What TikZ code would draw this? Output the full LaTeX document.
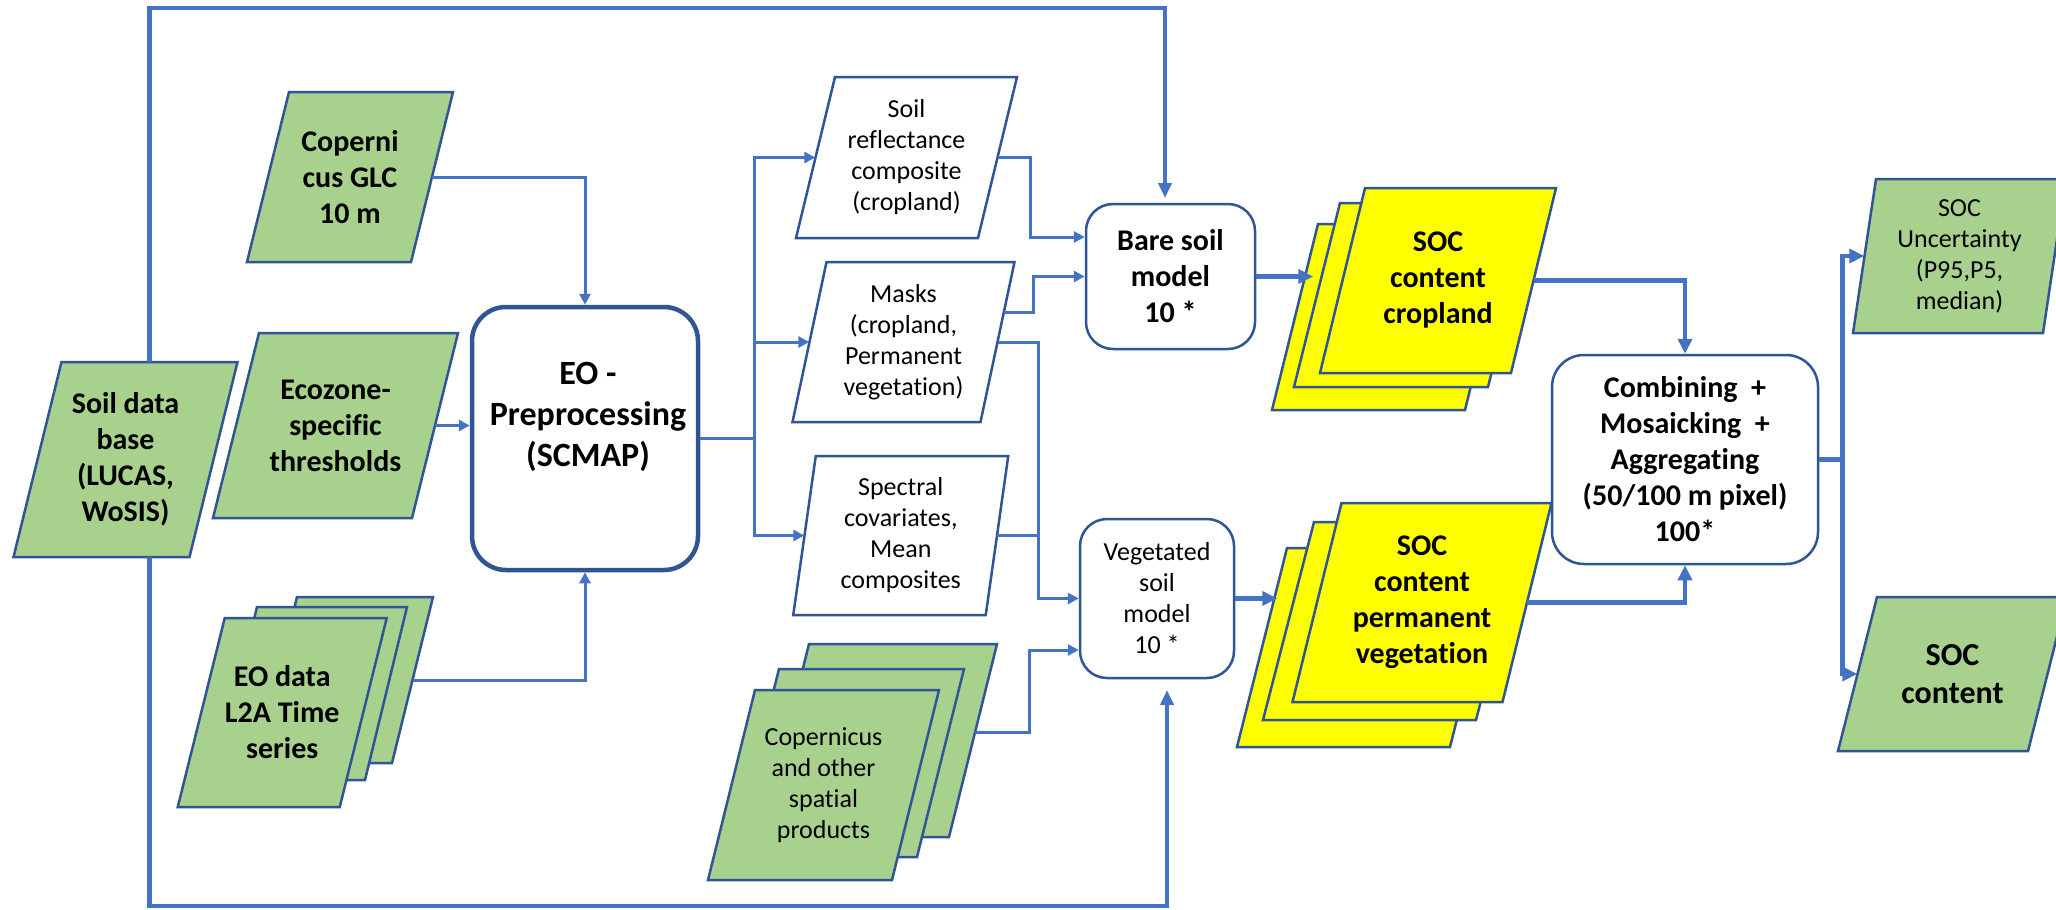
\documentclass[tikz,border=0pt]{standalone}
\usepackage{fontspec}
\setmainfont{Carlito}[Ligatures=NoCommon]
\usetikzlibrary{arrows.meta,calc}
\definecolor{gfill}{HTML}{A9D18E}
\definecolor{bord}{HTML}{2F5597}
\definecolor{conncol}{HTML}{4472C4}
\definecolor{yel}{HTML}{FFFF00}
\tikzset{
 txtb/.style={align=center, inner sep=0pt, text=black, font=\bfseries\fontsize{30}{36}\selectfont},
 txtr/.style={align=center, inner sep=0pt, text=black, font=\fontsize{26}{31}\selectfont},
 txteo/.style={align=center, inner sep=0pt, text=black, font=\bfseries\fontsize{34}{41}\selectfont},
 txtsoc/.style={align=center, inner sep=0pt, text=black, font=\bfseries\fontsize{32}{38}\selectfont},
 gbox/.style={fill=gfill, draw=bord, line width=2.5pt},
 wbox/.style={fill=white, draw=bord, line width=2.5pt},
 ybox/.style={fill=yel, draw=bord, line width=2.5pt},
 rbox/.style={draw=bord, line width=2.5pt, fill=white, rounded corners=27pt, inner sep=0pt},
 cline/.style={draw=conncol, line width=3pt},
 carrow/.style={cline, -{Triangle[length=11pt,width=11pt]}},
 tline/.style={draw=conncol, line width=4.8pt},
 tarrow/.style={tline, -{Triangle[length=15pt,width=14pt]}},
}
% name, cx, cy, edge width, height, slant, shape style, text style, text
\newcommand\mkpara[9]{%
  \path[#7] ({#2-#4/2+#6/2},{#3-#5/2}) coordinate (#1-tl)
     -- ({#2+#4/2+#6/2},{#3-#5/2}) coordinate (#1-tr)
     -- ({#2+#4/2-#6/2},{#3+#5/2}) coordinate (#1-br)
     -- ({#2-#4/2-#6/2},{#3+#5/2}) coordinate (#1-bl) -- cycle;
  \node[#8, minimum width=#4pt, minimum height=#5pt] (#1) at (#2,#3) {#9};
}
\begin{document}
\begin{tikzpicture}[x=1pt,y=-1pt]
\useasboundingbox (0,0) rectangle (2056,910);
\clip (0,0) rectangle (2056,910);
\fill[white] (0,0) rectangle (2056,910);

% inputs
\mkpara{coperni}{350}{177}{164}{170}{42}{gbox}{txtb}{Coperni\\cus GLC\\10 m}
\mkpara{soil}{125.5}{459.5}{176}{195}{48}{gbox}{txtb}{Soil data\\base\\(LUCAS,\\WoSIS)}
\mkpara{ecozone}{335.5}{425.5}{199}{185}{46}{gbox}{txtb}{Ecozone-\\specific\\thresholds}
\mkpara{eodc}{344.5}{680}{136}{166}{41}{gbox}{txtb}{}
\mkpara{eodb}{311}{693.5}{150}{173}{42}{gbox}{txtb}{}
\mkpara{eoda}{282.25}{712.5}{162}{189}{47}{gbox}{txtb}{EO data\\L2A Time\\series}

% preprocessing
\node[rbox, line width=4.5pt, rounded corners=34pt, minimum width=226pt, minimum height=263pt] (eo) at (585,438.5) {};
\node[txteo] (eotxt) at (588,417) {EO -\\Preprocessing\\(SCMAP)};

% intermediate products
\mkpara{soilrefl}{906.5}{157.5}{182}{161}{39}{wbox}{txtr}{Soil\\reflectance\\composite\\(cropland)}
\mkpara{masks}{903.5}{342}{188}{160}{34}{wbox}{txtr}{Masks\\(cropland,\\Permanent\\vegetation)}
\mkpara{spectral}{900.75}{535.5}{192.5}{159}{22.5}{wbox}{txtr}{Spectral\\covariates,\\Mean\\composites}
\mkpara{copc}{879}{740.5}{188}{193}{48}{gbox}{txtr}{}
\mkpara{copb}{848}{763}{185}{188}{47}{gbox}{txtr}{}
\mkpara{copa}{823.5}{785}{184}{190}{47}{gbox}{txtr}{Copernicus\\and other\\spatial\\products}

% models
\node[rbox, txtb, minimum width=169pt, minimum height=145pt] (bare) at (1170.5,276.5) {Bare soil\\model\\10 *};
\node[rbox, txtr, minimum width=154pt, minimum height=159pt] (veg) at (1157,598.5) {Vegetated\\soil\\model\\10 *};

% SOC stacks
\mkpara{crc}{1391.5}{317}{193}{186}{46}{ybox}{txtb}{}
\mkpara{crb}{1414}{295}{194}{184}{46}{ybox}{txtb}{}
\mkpara{cra}{1438}{280.5}{191}{185}{45}{ybox}{txtb}{SOC\\content\\cropland}
\mkpara{pvc}{1368.5}{647.5}{213}{199}{50}{ybox}{txtb}{}
\mkpara{pvb}{1395}{621}{213}{198}{51}{ybox}{txtb}{}
\mkpara{pva}{1422}{602.5}{210}{199}{49}{ybox}{txtb}{SOC\\content\\permanent\\vegetation}

% combining
\node[rbox, txtb, rounded corners=32pt, minimum width=266pt, minimum height=209pt] (comb) at (1685,459.5) {Combining \ +\\Mosaicking \ +\\Aggregating\\(50/100 m pixel)\\100*};

% outputs
\mkpara{unc}{1959.5}{256}{190}{154}{23}{gbox}{txtr}{SOC\\Uncertainty\\(P95,P5,\\median)}
\mkpara{socc}{1952.5}{674}{190}{154}{39}{gbox}{txtsoc}{SOC\\content}

% ---------- connectors ----------
\coordinate (soiltop) at ($(soil-tl)!0.5!(soil-tr)$);
\coordinate (lt) at (0,8);
\coordinate (lb) at (0,906);
\coordinate (bt) at (1165,198);
\coordinate (vt) at (1167,690);
\draw[tline, -{Triangle[length=15pt,width=13pt]}] (soiltop) -- (soiltop |- lt) -| (bt);
\draw[tline, -{Triangle[length=15pt,width=13pt]}] (soiltop |- soil-bl) -- (soiltop |- lb) -| (vt);

\draw[carrow] (coperni.east) -| (eo.north);
\draw[carrow] (ecozone.east) -- (ecozone.east -| eo.west);
\draw[carrow] (eodc.east) -| (eo.south);

\coordinate (split) at (754,438.5);
\draw[cline] (eo.east) -- (split);
\draw[carrow] (split) |- (soilrefl.west);
\draw[carrow] (split) |- (spectral.west);
\draw[carrow] (split |- masks.west) -- (masks.west);

\draw[carrow] (soilrefl.east) -- ++(33,0) |- ($(bare.west)+(0,-39.5)$);
\draw[carrow] ($(masks-tr)!0.3125!(masks-br)$) -- ++(30,0) |- (bare.west);
\coordinate (mv) at ($(masks.east)+(41,0)$);
\draw[carrow] (masks.east) -- (mv) |- (veg.west);
\draw[cline] (spectral.east) -- (spectral.east -| mv);
\draw[carrow] ($(copc-tr)!0.46!(copc-br)$) -- ++(55,0) |- ($(veg.west)+(0,51.5)$);

\coordinate (bareout) at ($(bare.east)+(57,0)$);
\coordinate (vegout) at ($(veg.east)+(42,0)$);
\draw[tarrow] (bare.east) -- (bareout);
\draw[tarrow] (veg.east) -- (vegout);

\draw[tarrow] (cra.east) -| (comb.north);
\draw[tarrow] (pva.east) -| (comb.south);

\coordinate (oj) at ($(comb.east)+(23,0)$);
\draw[tline] (comb.east) -- (oj);
\draw[tarrow] (oj) |- (unc.west);
\draw[tarrow] (oj) |- (socc.west);
\end{tikzpicture}
\end{document}
